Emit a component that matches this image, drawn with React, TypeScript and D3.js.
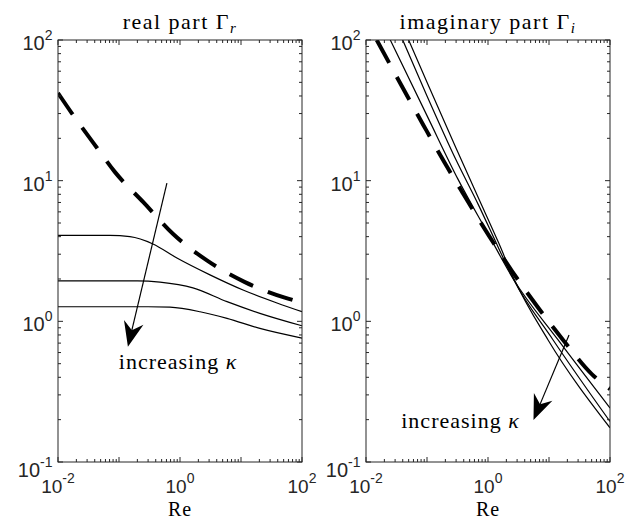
import * as d3 from 'd3';
import React, { useEffect, useRef } from 'react';

type Pt = [number, number];

const reDomain: [number, number] = [1e-2, 1e2];
const gammaDomain: [number, number] = [1e-1, 1e2];
const reTickLabels = [-2, 0, 2];
const gammaTickLabels = [-1, 0, 1, 2];

// left panel, real part
const realDashed: Pt[] = [
    [0.01, 42], [0.017, 30], [0.044, 17], [0.086, 11.5], [0.257, 6.95],
    [0.78, 4.16], [2.8, 2.7], [11.6, 1.9], [50.7, 1.48], [100, 1.36],
];
const realSmallKappa: Pt[] = [
    [0.01, 4.08], [0.071, 4.08], [0.151, 4.0], [0.36, 3.55], [0.89, 2.82],
    [3.1, 2.14], [10.8, 1.67], [38.9, 1.35], [100, 1.17],
];
const realMidKappa: Pt[] = [
    [0.01, 1.94], [0.2, 1.94], [0.47, 1.9], [1.63, 1.73], [5.9, 1.38],
    [20.4, 1.14], [100, 0.93],
];
const realLargeKappa: Pt[] = [
    [0.01, 1.27], [0.3, 1.27], [0.686, 1.26], [2.13, 1.17], [5.9, 1.05],
    [20.4, 0.89], [100, 0.76],
];

// right panel, imaginary part
const imagDashed: Pt[] = [
    [0.015, 100], [0.0404, 45.4], [0.0883, 24.6], [0.195, 13.4], [0.385, 8.18],
    [1.04, 4.05], [2.52, 2.25], [6.47, 1.27], [17, 0.738], [50.7, 0.42], [100, 0.33],
];
const imagSmallKappa: Pt[] = [
    [0.025, 100], [0.1, 29], [0.32, 10.3], [1, 4.2], [2.6, 2.0],
    [14, 0.74], [100, 0.242],
];
const imagMidKappa: Pt[] = [
    [0.04, 100], [0.1, 40], [0.3, 14], [0.7, 6.7], [1.5, 3.3], [2.6, 2.0],
    [11.6, 0.74], [100, 0.194],
];
const imagLargeKappa: Pt[] = [
    [0.05, 100], [0.1, 50], [0.3, 17], [0.7, 7.5], [1.5, 3.6], [2.6, 2.05],
    [9.6, 0.74], [100, 0.175],
];

// annotations (data coordinates)
const realArrow: Pt[] = [[0.61, 9.6], [0.14, 0.66]];
const imagArrow: Pt[] = [[21.3, 0.8], [5.57, 0.199]];
const realNote: Pt = [0.93, 0.46];
const imagNote: Pt = [0.354, 0.175];

const panels = [
    {
        left: 58,
        title: 'real part ',
        sub: 'r',
        dashed: realDashed,
        solid: [realSmallKappa, realMidKappa, realLargeKappa],
        arrow: realArrow,
        note: realNote,
    },
    {
        left: 366,
        title: 'imaginary part ',
        sub: 'i',
        dashed: imagDashed,
        solid: [imagSmallKappa, imagMidKappa, imagLargeKappa],
        arrow: imagArrow,
        note: imagNote,
    },
];

const W = 638;
const H = 521;
const top = 40;
const bottom = 462;
const panelW = 244;
const axisColor = '#262626';
const sans = '"Liberation Sans", Arial, sans-serif';
const serif = '"Liberation Serif", "Times New Roman", serif';

const headPath = (x1: number, y1: number, x2: number, y2: number) => {
    const dx = x2 - x1;
    const dy = y2 - y1;
    const len = Math.hypot(dx, dy);
    const ux = dx / len;
    const uy = dy / len;
    const px = -uy;
    const py = ux;
    const L = 25;
    const hw = 10;
    const notch = 17;
    return `M${x2},${y2}L${x2 - ux * L + px * hw},${y2 - uy * L + py * hw}L${x2 - ux * notch},${y2 - uy * notch}L${x2 - ux * L - px * hw},${y2 - uy * L - py * hw}Z`;
};

const Chart = () => {
    const svgRef = useRef<SVGSVGElement | null>(null);

    useEffect(() => {
        const svg = d3.select(svgRef.current);
        svg.selectAll('*').remove();

        panels.forEach((p, k) => {
            const x = d3.scaleLog().domain(reDomain).range([p.left, p.left + panelW]);
            const y = d3.scaleLog().domain(gammaDomain).range([bottom, top]);
            const g = svg.append('g');

            svg.append('clipPath')
                .attr('id', `clip${k}`)
                .append('rect')
                .attr('x', p.left)
                .attr('y', top)
                .attr('width', panelW)
                .attr('height', bottom - top);

            const line = d3
                .line<Pt>()
                .x((d) => x(d[0]))
                .y((d) => y(d[1]))
                .curve(d3.curveMonotoneX);

            const plot = g.append('g').attr('clip-path', `url(#clip${k})`);
            p.solid.forEach((s) => {
                plot.append('path')
                    .attr('d', line(s))
                    .attr('fill', 'none')
                    .attr('stroke', '#000')
                    .attr('stroke-width', 1.2);
            });
            plot.append('path')
                .attr('d', line(p.dashed))
                .attr('fill', 'none')
                .attr('stroke', '#000')
                .attr('stroke-width', 4)
                .attr('stroke-dasharray', '26 16');

            // box + ticks
            g.append('rect')
                .attr('x', p.left)
                .attr('y', top)
                .attr('width', panelW)
                .attr('height', bottom - top)
                .attr('fill', 'none')
                .attr('stroke', axisColor)
                .attr('stroke-width', 1);

            const isMajor = (v: number) => Math.abs(Math.log10(v) - Math.round(Math.log10(v))) < 1e-6;
            x.ticks().forEach((t) => {
                const len = isMajor(t) ? 5 : 3;
                const xp = x(t);
                g.append('line').attr('x1', xp).attr('x2', xp).attr('y1', bottom).attr('y2', bottom - len).attr('stroke', axisColor);
                g.append('line').attr('x1', xp).attr('x2', xp).attr('y1', top).attr('y2', top + len).attr('stroke', axisColor);
            });
            y.ticks().forEach((t) => {
                const len = isMajor(t) ? 5 : 3;
                const yp = y(t);
                g.append('line').attr('x1', p.left).attr('x2', p.left + len).attr('y1', yp).attr('y2', yp).attr('stroke', axisColor);
                g.append('line').attr('x1', p.left + panelW).attr('x2', p.left + panelW - len).attr('y1', yp).attr('y2', yp).attr('stroke', axisColor);
            });

            reTickLabels.forEach((e) => {
                const t = g.append('text')
                    .attr('x', x(Math.pow(10, e)))
                    .attr('y', 493)
                    .attr('text-anchor', 'middle')
                    .attr('font-family', sans)
                    .attr('font-size', 19)
                    .attr('fill', axisColor)
                    .text('10');
                t.append('tspan').attr('dy', -10).attr('font-size', 14).text(String(e));
            });
            gammaTickLabels.forEach((e) => {
                const t = g.append('text')
                    .attr('x', p.left - 5.5)
                    .attr('y', y(Math.pow(10, e)) + (e === -1 ? 15 : 10))
                    .attr('text-anchor', 'end')
                    .attr('font-family', sans)
                    .attr('font-size', 20)
                    .attr('fill', axisColor)
                    .text('10');
                t.append('tspan').attr('dy', -10).attr('font-size', 14).text(String(e));
            });

            // x label
            g.append('text')
                .attr('x', p.left + panelW / 2)
                .attr('y', 515.5)
                .attr('text-anchor', 'middle')
                .attr('font-family', serif)
                .attr('font-size', 20)
                .attr('letter-spacing', 1)
                .text('Re');

            // title
            const title = g.append('text')
                .attr('x', p.left + panelW / 2)
                .attr('y', 28.5)
                .attr('text-anchor', 'middle')
                .attr('font-family', serif)
                .attr('font-size', 22)
                .attr('letter-spacing', 1.5)
                .text(p.title + 'Γ');
            title.append('tspan').attr('dy', 4).attr('font-size', 15).attr('font-style', 'italic').text(p.sub);

            // arrow
            const [a0, a1] = p.arrow;
            const x1 = x(a0[0]);
            const y1 = y(a0[1]);
            const x2 = x(a1[0]);
            const y2 = y(a1[1]);
            const alen = Math.hypot(x2 - x1, y2 - y1);
            g.append('line')
                .attr('x1', x1).attr('y1', y1)
                .attr('x2', x2 - ((x2 - x1) / alen) * 15)
                .attr('y2', y2 - ((y2 - y1) / alen) * 15)
                .attr('stroke', '#000')
                .attr('stroke-width', 1.2);
            g.append('path').attr('d', headPath(x1, y1, x2, y2)).attr('fill', '#000');

            const note = g.append('text')
                .attr('x', x(p.note[0]))
                .attr('y', y(p.note[1]))
                .attr('text-anchor', 'middle')
                .attr('font-family', serif)
                .attr('font-size', 22)
                .attr('letter-spacing', 1)
                .text('increasing ');
            note.append('tspan').attr('font-style', 'italic').text('κ');
        });
    }, []);

    return (
        <svg
            ref={svgRef}
            width={W}
            height={H}
            style={{ position: 'absolute', left: 0, top: 0, background: '#fff' }}
        />
    );
};

export default function App() {
    return <Chart />;
}
